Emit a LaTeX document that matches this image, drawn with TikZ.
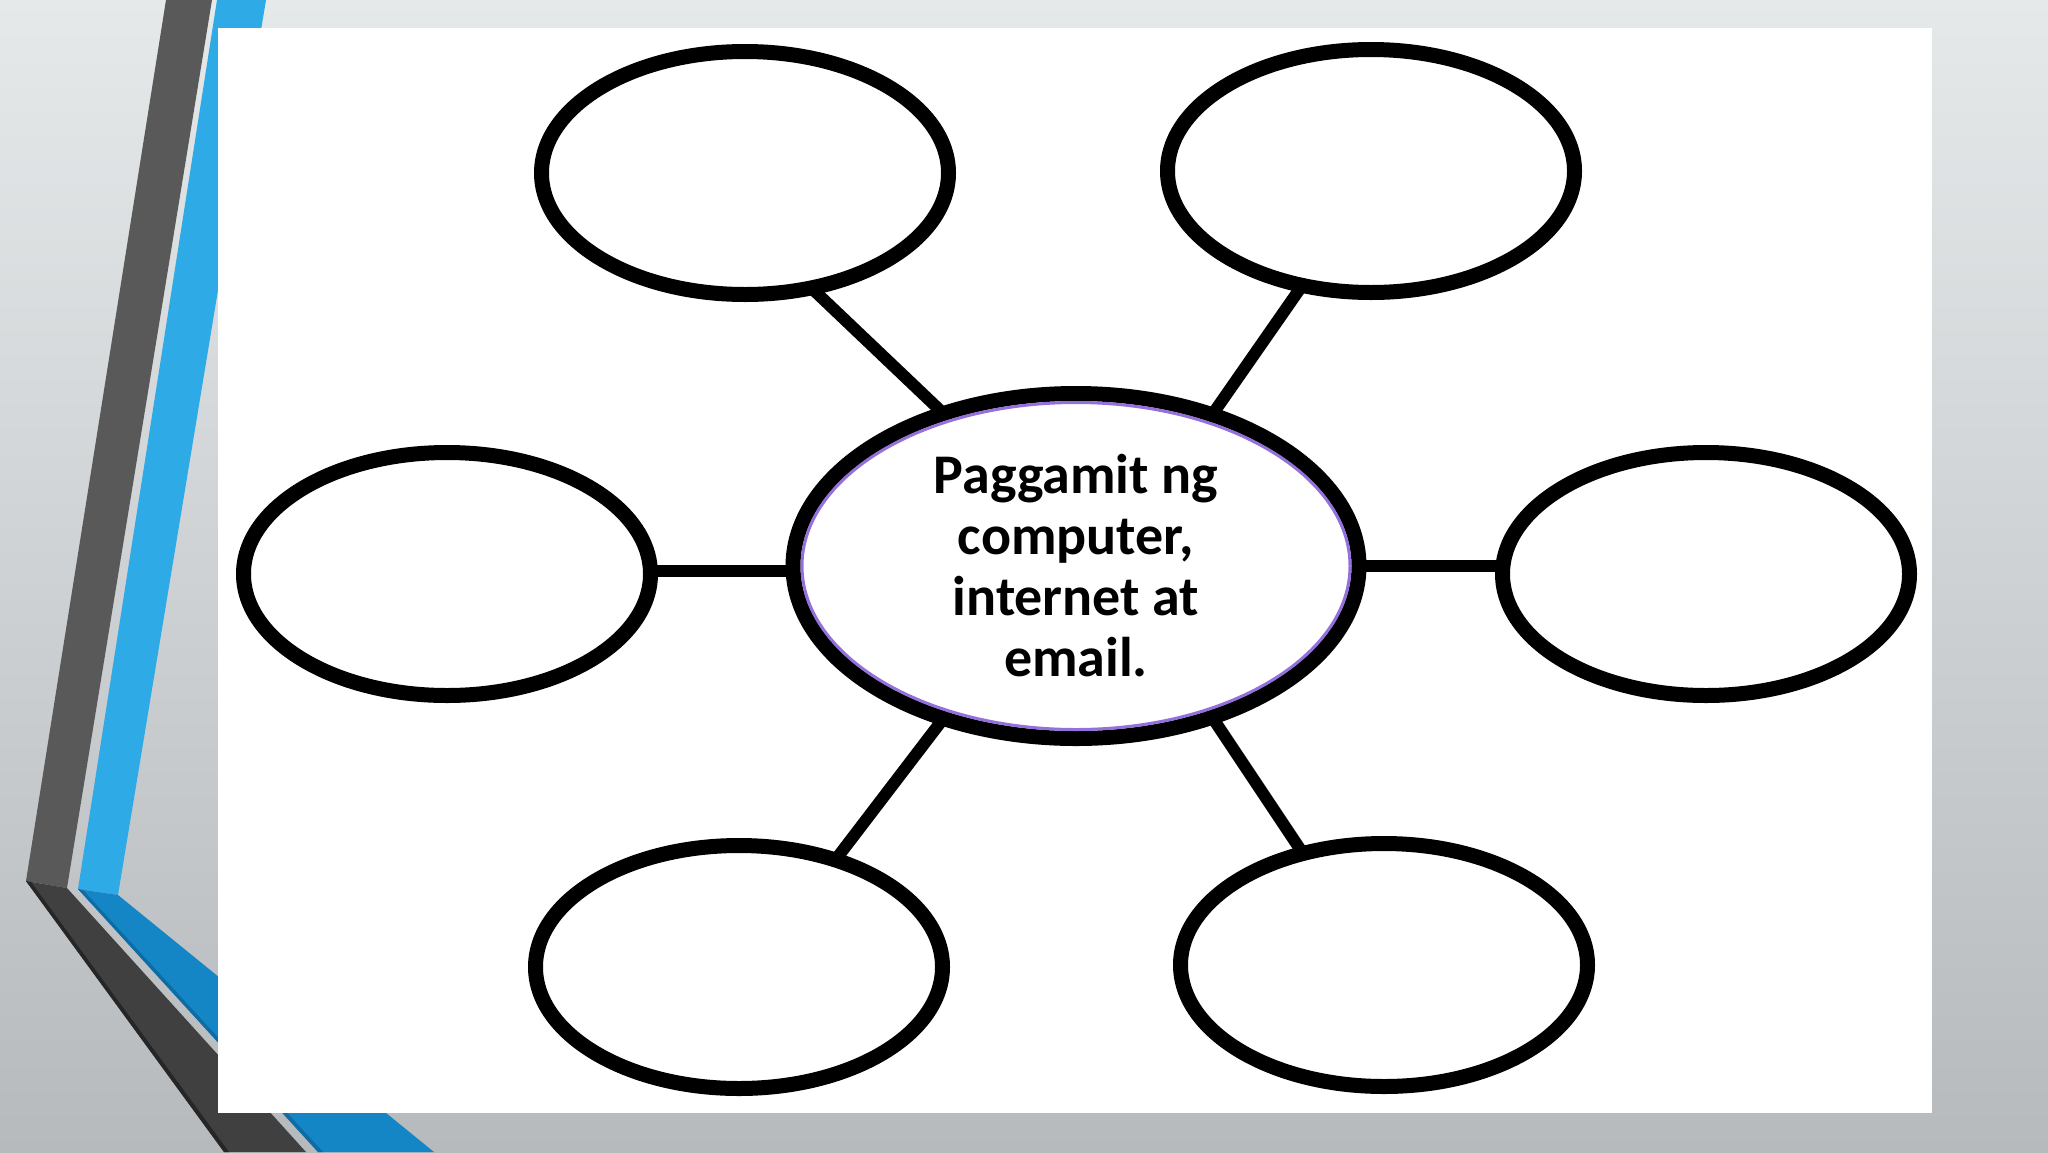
\documentclass[tikz,border=0pt]{standalone}
\usepackage{fontspec}
\setmainfont{Carlito}
\usepackage{tikz}
\usetikzlibrary{positioning}
\usetikzlibrary{shapes}
\definecolor{bgtop}{HTML}{E6E9EA}
\definecolor{bgbot}{HTML}{B6BABD}
\definecolor{darkband}{HTML}{595959}
\definecolor{darkerband}{HTML}{404040}
\definecolor{darkedge}{HTML}{262626}
\definecolor{blueband}{HTML}{2EAAE6}
\definecolor{deepblue}{HTML}{1486C6}
\definecolor{blueedge}{HTML}{0E6BA3}
\definecolor{rim}{HTML}{9370DB}
\tikzset{
bub/.style={
  ellipse,
  inner sep=0pt,
  outer sep=0pt,
  minimum width=407pt,
  minimum height=243pt,
  line width=15pt,
  draw=black,
  fill=white
  },
mid/.style={
  bub,
  minimum width=566pt,
  minimum height=345pt,
  align=center,
  font=\bfseries\fontsize{56}{61}\selectfont
  }
}
\begin{document}
\begin{tikzpicture}[x=1pt,y=-1pt,line width=12pt]
            \useasboundingbox (0,0) rectangle (2048,1152);
            % slide background and side bands
            \shade[top color=bgtop,bottom color=bgbot] (0,0) rectangle (2048,1152);
            \fill[darkband]    (166,0) -- (212,0) -- (67,888) -- (26,881) -- cycle;
            \fill[darkerband]  (26,881) -- (67,888) -- (306,1152) -- (224,1152) -- cycle;
            \fill[darkedge]    (26,881) -- (31,882) -- (229,1152) -- (224,1152) -- cycle;
            \fill[blueband]    (217,0) -- (266,0) -- (118,895) -- (78,889) -- cycle;
            \fill[deepblue]    (78,889) -- (118,895) -- (434,1152) -- (318,1152) -- cycle;
            \fill[blueedge]    (78,889) -- (83,890) -- (323,1152) -- (318,1152) -- cycle;
            \fill[white] (218,28) rectangle (1932,1113);
            % bubbles
            \node[mid] (m)  at (1076,566) {Paggamit ng\\computer,\\internet at\\email.};
            \draw[rim,line width=3pt] (m.center) ellipse [x radius=274pt,y radius=163.5pt];
            \node[bub] (tl) at (745,173)  {};
            \node[bub] (tr) at (1371,171) {};
            \node[bub] (l)  at (447,574)  {};
            \node[bub] (r)  at (1706,574) {};
            \node[bub] (bl) at (739,967)  {};
            \node[bub] (br) at (1384,965) {};
            \path
            (m.131.5) edge (tl.-60.3)
            (m.48.9)  edge (tr.-121.6)
            (m.181)   edge (l.east |- m.181)
            (m.-0.4)  edge (r.west |- m.-0.4)
            (m.-131.5) edge (bl.48.3)
            (m.-48.1) edge (br.126.6)
            ;
        \end{tikzpicture}
\end{document}
